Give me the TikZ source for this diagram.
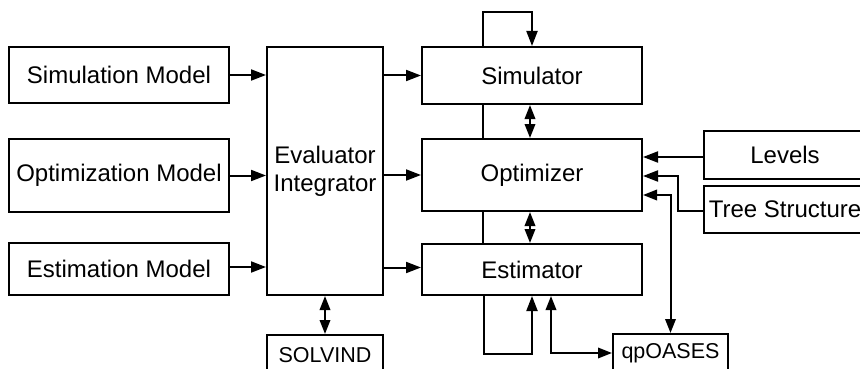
\documentclass[tikz,border=0pt]{standalone}
\usepackage{fontspec}
\setmainfont{Liberation Sans}
\usetikzlibrary{arrows.meta}
\begin{document}
\begin{tikzpicture}[x=1pt,y=-1pt,
  box/.style={draw, line width=2pt, inner sep=0pt, align=center,
    font=\fontsize{24}{28}\selectfont},
  smallbox/.style={box, font=\fontsize{21.5}{25}\selectfont},
  wire/.style={line width=2pt},
  tip/.style={wire, -{Triangle[length=15pt,width=11pt]}},
  tips/.style={wire, {Triangle[length=14pt,width=10.5pt]}-{Triangle[length=14pt,width=10.5pt]}}]
\useasboundingbox (0,0) rectangle (860,369);
\clip (0,0) rectangle (860,369);

% model inputs
\node[box, minimum width=220pt, minimum height=56pt] (simmodel) at (119,75) {Simulation Model};
\node[box, minimum width=220pt, minimum height=73pt] (optmodel) at (119,175.5) {Optimization Model};
\node[box, minimum width=220pt, minimum height=52pt] (estmodel) at (119,269) {Estimation Model};

% evaluator and its integrator
\node[box, minimum width=116pt, minimum height=248pt] (evaluator) at (325,171) {Evaluator\\Integrator};
\node[smallbox, minimum width=116pt, minimum height=40pt] (solvind) at (325,355) {SOLVIND};

% solver components
\node[box, minimum width=220pt, minimum height=57pt] (simulator) at (532,75.5) {Simulator};
\node[box, minimum width=220pt, minimum height=72pt] (optimizer) at (532,175) {Optimizer};
\node[box, minimum width=220pt, minimum height=51pt] (estimator) at (532,269.5) {Estimator};

% auxiliary inputs and QP solver
\node[box, minimum width=162pt, minimum height=48pt] (levels) at (785,155) {Levels};
\node[box, minimum width=162pt, minimum height=47pt] (tree) at (785,209.5) {Tree Structure};
\node[smallbox, minimum width=115pt, minimum height=38pt] (qpoases) at (670.5,353) {qpOASES};

% models feed the evaluator
\draw[tip] (simmodel.east) -- (simmodel.east -| evaluator.west);
\draw[tip] (optmodel.east) -- (optmodel.east -| evaluator.west);
\draw[tip] ([yshift=2pt]estmodel.east) -- ([yshift=2pt]estmodel.east -| evaluator.west);

% evaluator feeds the components
\draw[tip] (evaluator.east |- simulator.west) -- (simulator.west);
\draw[tip] (evaluator.east |- optimizer.west) -- (optimizer.west);
\draw[tip] ([yshift=2pt]evaluator.east |- estimator.west) -- ([yshift=2pt]estimator.west);

% evaluator <-> SOLVIND
\draw[tips] (evaluator.south) -- (solvind.north);

% simulator self loop
\draw[tip] ([xshift=-49pt]simulator.north) -- ++(0,-34) -| (simulator.north);

% links between components
\draw[wire] ([xshift=-49pt]simulator.south) -- ([xshift=-49pt]simulator.south |- optimizer.north);
\draw[tips] ([xshift=-2pt]simulator.south) -- ([xshift=-2pt]optimizer.north);
\draw[wire] ([xshift=-49pt]optimizer.south) -- ([xshift=-49pt]optimizer.south |- estimator.north);
\draw[tips] ([xshift=-2pt]optimizer.south) -- ([xshift=-2pt]estimator.north);

% estimator self loop
\draw[tip] ([xshift=-48pt]estimator.south) -- ++(0,58) -| (estimator.south);

% estimator <-> qpOASES
\draw[tips] ([xshift=19pt]estimator.south) |- (qpoases.west);

% optimizer inputs
\draw[tip] ([yshift=-2pt]levels.west) -- ([yshift=-2pt]levels.west -| optimizer.east);
\draw[tip] ([yshift=-1.5pt]tree.west) -- ++(-25,0) |- ([yshift=-1pt]optimizer.east);
\draw[tips] ([yshift=-20pt]optimizer.east) -| (qpoases.north);
\end{tikzpicture}
\end{document}
